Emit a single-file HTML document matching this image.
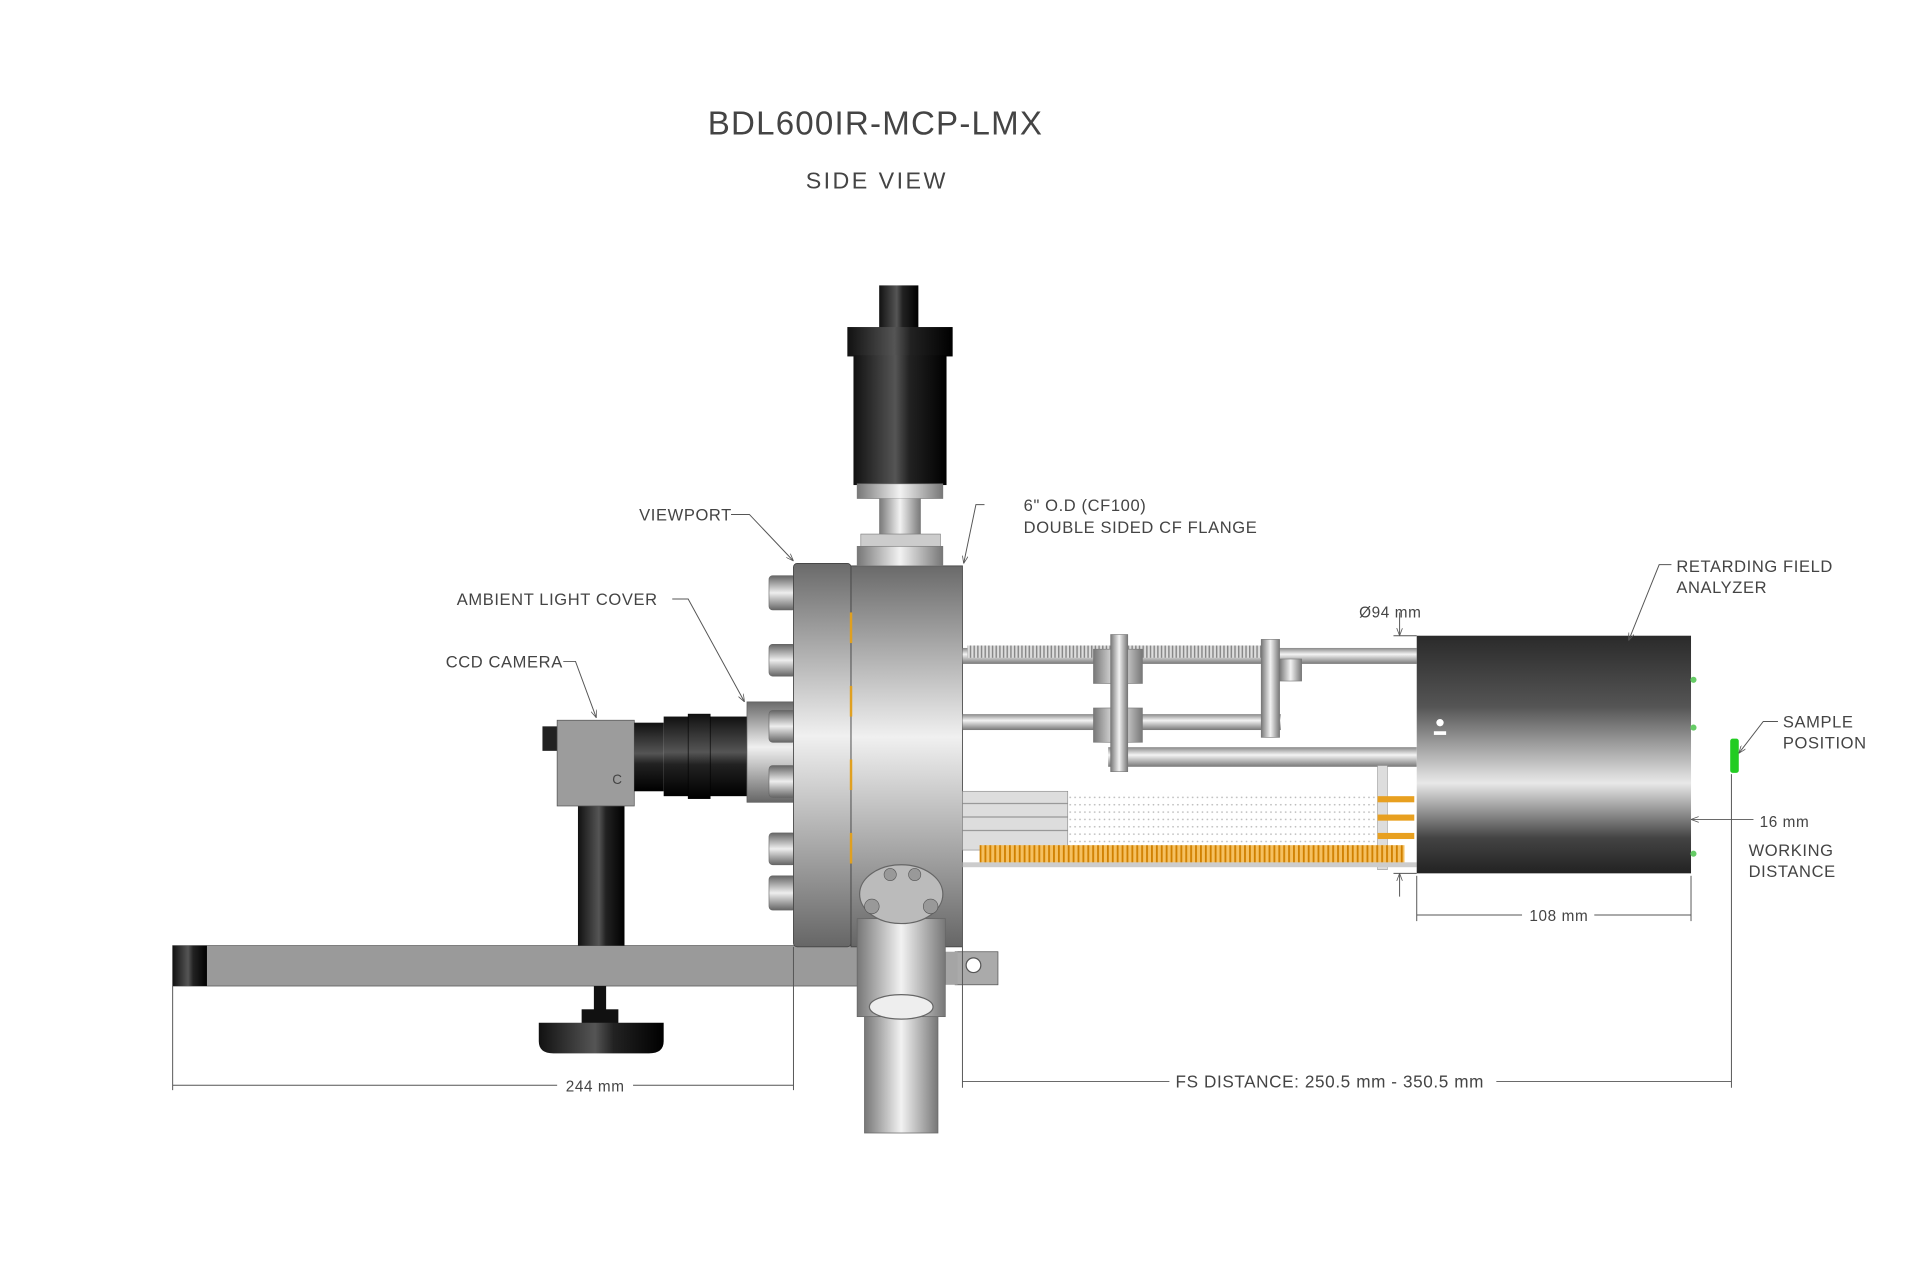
<!DOCTYPE html>
<html><head><meta charset="utf-8"><style>
html,body{margin:0;padding:0;background:#fff;width:1920px;height:1280px;overflow:hidden}
svg{display:block}
text{font-family:"Liberation Sans",sans-serif;fill:#444;letter-spacing:.5px}
</style></head><body>
<svg width="1920" height="1280" viewBox="0 0 1568 1045" preserveAspectRatio="none" xmlns="http://www.w3.org/2000/svg">
<defs>
<linearGradient id="blackV" x1="0" y1="0" x2="1" y2="0"><stop offset="0" stop-color="#111"/><stop offset=".45" stop-color="#555"/><stop offset=".6" stop-color="#222"/><stop offset="1" stop-color="#000"/></linearGradient>
<linearGradient id="blackH" x1="0" y1="0" x2="0" y2="1"><stop offset="0" stop-color="#111"/><stop offset=".45" stop-color="#555"/><stop offset=".6" stop-color="#222"/><stop offset="1" stop-color="#000"/></linearGradient>
<linearGradient id="silverH" x1="0" y1="0" x2="0" y2="1"><stop offset="0" stop-color="#666"/><stop offset=".5" stop-color="#eee"/><stop offset="1" stop-color="#666"/></linearGradient>
<linearGradient id="silverV" x1="0" y1="0" x2="1" y2="0"><stop offset="0" stop-color="#777"/><stop offset=".5" stop-color="#f2f2f2"/><stop offset="1" stop-color="#777"/></linearGradient>
<linearGradient id="flange" x1="0" y1="0" x2="0" y2="1"><stop offset="0" stop-color="#6a6a6a"/><stop offset=".45" stop-color="#f0f0f0"/><stop offset="1" stop-color="#666"/></linearGradient>
<linearGradient id="rfa" x1="0" y1="0" x2="0" y2="1"><stop offset="0" stop-color="#2a2a2a"/><stop offset=".3" stop-color="#555"/><stop offset=".62" stop-color="#e8e8e8"/><stop offset=".85" stop-color="#444"/><stop offset="1" stop-color="#222"/></linearGradient>
<linearGradient id="rod" x1="0" y1="0" x2="0" y2="1"><stop offset="0" stop-color="#888"/><stop offset=".4" stop-color="#f4f4f4"/><stop offset="1" stop-color="#777"/></linearGradient>
<pattern id="thread" width="3" height="10" patternUnits="userSpaceOnUse"><rect width="3" height="10" fill="#ddd"/><rect width="1.2" height="10" fill="#888"/></pattern>
<pattern id="spring" width="4" height="14" patternUnits="userSpaceOnUse"><rect width="4" height="14" fill="#f5c060"/><rect width="1.5" height="14" fill="#d08000"/></pattern>
<pattern id="dots" width="4" height="6" patternUnits="userSpaceOnUse"><circle cx="2" cy="3" r=".7" fill="#bbb"/></pattern>
<marker id="ar" markerWidth="8" markerHeight="6" refX="8" refY="3" orient="auto"><path d="M0 0L8 3L0 6" fill="none" stroke="#555" stroke-width=".8"/></marker>
</defs>

<text x="578" y="110" font-size="27" style="letter-spacing:1px">BDL600IR-MCP-LMX</text>
<text x="658" y="154" font-size="19" style="letter-spacing:2px">SIDE VIEW</text>

<rect x="141" y="772" width="560" height="33" fill="#9a9a9a" stroke="#555" stroke-width=".6"/>
<rect x="141" y="772" width="28" height="33" fill="url(#blackV)"/>
<rect x="780" y="777" width="35" height="27" fill="#aaa" stroke="#555" stroke-width=".6"/>
<circle cx="795" cy="788" r="6" fill="#fff" stroke="#555"/>
<rect x="700" y="777" width="82" height="27" fill="#a5a5a5"/>
<rect x="485" y="805" width="10" height="22" fill="#111"/>
<rect x="475" y="824" width="30" height="12" fill="#111"/>
<path d="M440 835 H542 V850 Q542 860 530 860 H452 Q440 860 440 850Z" fill="url(#blackV)"/>
<rect x="472" y="658" width="38" height="114" fill="url(#blackV)"/>
<rect x="443" y="593" width="15" height="20" fill="#222"/>
<rect x="455" y="588" width="63" height="70" fill="#9c9c9c" stroke="#555" stroke-width=".6"/>
<text x="500" y="640" font-size="11">C</text>
<rect x="518" y="590" width="24" height="56" fill="url(#blackH)"/>
<rect x="542" y="585" width="68" height="65" fill="url(#blackH)"/>
<rect x="562" y="583" width="18" height="69" fill="url(#blackH)" stroke="#000" stroke-width=".5"/>
<rect x="610" y="573" width="40" height="82" fill="url(#flange)" stroke="#555" stroke-width=".5"/>
<g fill="url(#silverH)" stroke="#666" stroke-width=".5">
<rect x="628" y="470" width="22" height="28" rx="3"/>
<rect x="628" y="526" width="22" height="26" rx="3"/>
<rect x="628" y="580" width="22" height="26" rx="3"/>
<rect x="628" y="625" width="22" height="26" rx="3"/>
<rect x="628" y="680" width="22" height="26" rx="3"/>
<rect x="628" y="715" width="22" height="28" rx="3"/>
</g>
<rect x="648" y="460" width="47" height="313" fill="url(#flange)" stroke="#444" stroke-width=".7" rx="3"/>
<rect x="695" y="462" width="91" height="311" fill="url(#flange)" stroke="#444" stroke-width=".7"/>
<g fill="#e0a020"><rect x="694" y="500" width="2" height="25"/><rect x="694" y="560" width="2" height="25"/><rect x="694" y="620" width="2" height="25"/><rect x="694" y="680" width="2" height="25"/></g>
<rect x="718" y="233" width="32" height="36" fill="url(#blackV)"/>
<rect x="692" y="267" width="86" height="24" fill="url(#blackV)"/>
<rect x="697" y="290" width="76" height="106" fill="url(#blackV)"/>
<rect x="700" y="395" width="70" height="12" fill="url(#silverV)" stroke="#777" stroke-width=".5"/>
<rect x="718" y="407" width="34" height="30" fill="url(#silverV)"/>
<rect x="703" y="436" width="65" height="10" fill="#ccc" stroke="#777" stroke-width=".5"/>
<rect x="700" y="446" width="70" height="16" fill="url(#silverV)" stroke="#777" stroke-width=".5"/>
<rect x="706" y="760" width="60" height="165" fill="url(#silverV)" stroke="#666" stroke-width=".6"/>
<rect x="700" y="750" width="72" height="80" fill="url(#silverV)" stroke="#666" stroke-width=".6"/>
<ellipse cx="736" cy="822" rx="26" ry="10" fill="#eee" stroke="#666"/>
<ellipse cx="736" cy="730" rx="34" ry="24" fill="#bbb" stroke="#666"/>
<g fill="#999" stroke="#555" stroke-width=".5"><circle cx="712" cy="740" r="6"/><circle cx="760" cy="740" r="6"/><circle cx="727" cy="714" r="5"/><circle cx="747" cy="714" r="5"/></g>
<rect x="786" y="529" width="371" height="13" fill="url(#rod)"/>
<rect x="790" y="527" width="240" height="10" fill="url(#thread)"/>
<rect x="786" y="583" width="260" height="13" fill="url(#rod)"/>
<rect x="905" y="610" width="252" height="16" fill="url(#rod)"/>
<g fill="url(#silverV)" stroke="#777" stroke-width=".5">
<rect x="893" y="530" width="40" height="28"/><rect x="893" y="578" width="40" height="28"/>
<rect x="907" y="518" width="14" height="112"/><rect x="1030" y="522" width="15" height="80"/><rect x="1045" y="538" width="18" height="18"/>
</g>
<rect x="786" y="646" width="86" height="48" fill="#ddd" stroke="#888" stroke-width=".5"/>
<g stroke="#999" stroke-width="1"><line x1="786" y1="656" x2="872" y2="656"/><line x1="786" y1="667" x2="872" y2="667"/><line x1="786" y1="678" x2="872" y2="678"/></g>
<rect x="872" y="648" width="255" height="44" fill="url(#dots)"/>
<rect x="1125" y="625" width="8" height="85" fill="#ddd" stroke="#999" stroke-width=".5"/>
<g fill="#e8a020"><rect x="1125" y="650" width="30" height="5"/><rect x="1125" y="665" width="30" height="5"/><rect x="1125" y="680" width="30" height="5"/></g>
<rect x="800" y="690" width="347" height="16" fill="url(#spring)"/>
<rect x="786" y="704" width="371" height="4" fill="#ccc"/>
<rect x="1157" y="519" width="224" height="194" fill="url(#rfa)"/>
<circle cx="1176" cy="590" r="3" fill="#fff"/><rect x="1171" y="597" width="10" height="3" fill="#fff"/>
<g fill="#6c6"><circle cx="1383" cy="555" r="2.5"/><circle cx="1383" cy="594" r="2.5"/><circle cx="1383" cy="697" r="2.5"/></g>
<rect x="1413" y="603" width="7" height="28" fill="#2c2" rx="2"/>

<g stroke="#555" stroke-width=".8" fill="none">
<line x1="141" y1="805" x2="141" y2="890"/><line x1="648" y1="773" x2="648" y2="890"/>
<line x1="141" y1="886" x2="455" y2="886"/><line x1="517" y1="886" x2="648" y2="886"/>
<line x1="786" y1="773" x2="786" y2="888"/><line x1="1414" y1="632" x2="1414" y2="888"/>
<line x1="786" y1="883" x2="955" y2="883"/><line x1="1222" y1="883" x2="1414" y2="883"/>
<line x1="1157" y1="715" x2="1157" y2="752"/><line x1="1381" y1="715" x2="1381" y2="752"/>
<line x1="1157" y1="747" x2="1243" y2="747"/><line x1="1302" y1="747" x2="1381" y2="747"/>
<line x1="1138" y1="519" x2="1157" y2="519"/><line x1="1138" y1="713" x2="1157" y2="713"/>
<line x1="1143" y1="500" x2="1143" y2="519" marker-end="url(#ar)"/><line x1="1143" y1="732" x2="1143" y2="713" marker-end="url(#ar)"/>
<line x1="1432" y1="669" x2="1381" y2="669" marker-end="url(#ar)"/>
<polyline points="597,420 612,420 648,458" marker-end="url(#ar)"/>
<polyline points="804,412 797,412 787,460" marker-end="url(#ar)"/>
<polyline points="549,489 562,489 608,573" marker-end="url(#ar)"/>
<polyline points="460,540 470,540 487,586" marker-end="url(#ar)"/>
<polyline points="1365,461 1355,461 1330,523" marker-end="url(#ar)"/>
<polyline points="1452,589 1440,589 1420,615" marker-end="url(#ar)"/>
</g>

<text x="462" y="891" font-size="12.5">244 mm</text>
<text x="960" y="888" font-size="14">FS DISTANCE: 250.5 mm - 350.5 mm</text>
<text x="1249" y="752" font-size="12.5">108 mm</text>
<text x="1110" y="504" font-size="12.5">Ø94 mm</text>
<text x="1437" y="675" font-size="12.5">16 mm</text>
<text x="522" y="425" font-size="13.5">VIEWPORT</text>
<text x="836" y="417" font-size="13.5">6" O.D (CF100)</text>
<text x="836" y="435" font-size="13.5">DOUBLE SIDED CF FLANGE</text>
<text x="373" y="494" font-size="13.5">AMBIENT LIGHT COVER</text>
<text x="364" y="545" font-size="13.5">CCD CAMERA</text>
<text x="1369" y="467" font-size="13.5">RETARDING FIELD</text>
<text x="1369" y="484" font-size="13.5">ANALYZER</text>
<text x="1456" y="594" font-size="13.5">SAMPLE</text>
<text x="1456" y="611" font-size="13.5">POSITION</text>
<text x="1428" y="699" font-size="13.5">WORKING</text>
<text x="1428" y="716" font-size="13.5">DISTANCE</text>
</svg>
</body></html>
